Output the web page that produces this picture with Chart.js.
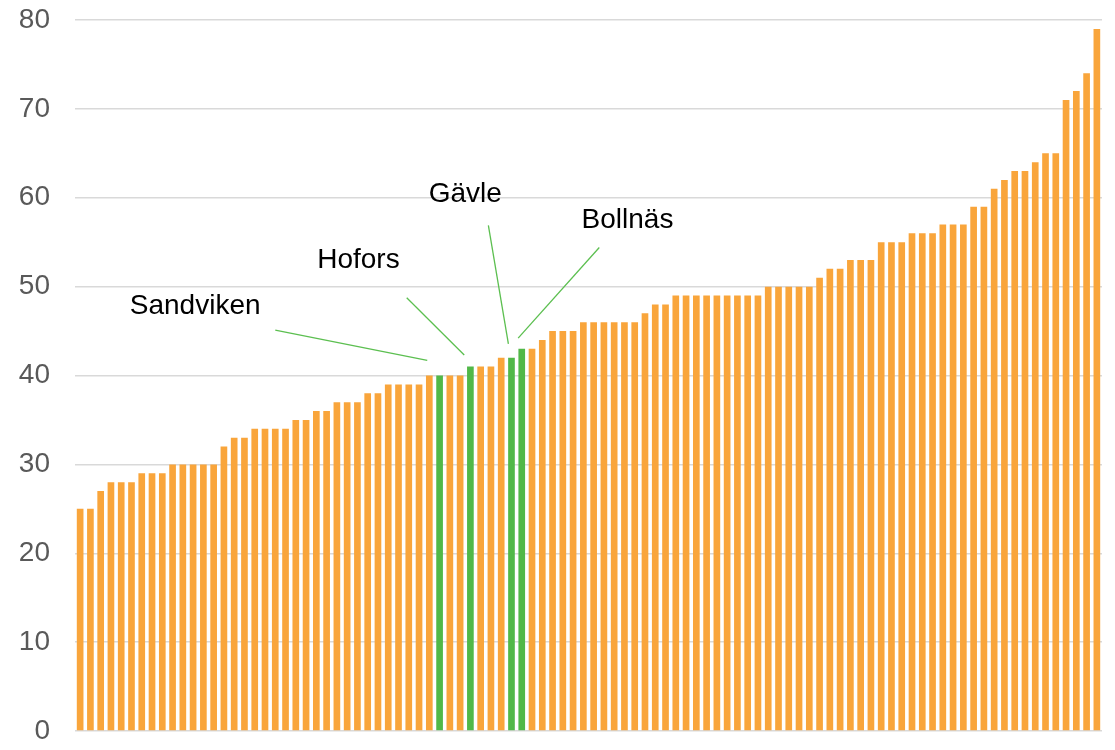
<!DOCTYPE html>
<html>
<head>
<meta charset="utf-8">
<script src="https://cdn.jsdelivr.net/npm/chart.js@4/dist/chart.umd.min.js"></script>
<style>
  html, body { margin: 0; padding: 0; background: #fff; }
  #wrap { width: 1115px; height: 750px; }
</style>
</head>
<body>
<div id="wrap"><canvas id="wykres"></canvas></div>
<script>
// values per kommun, sorted ascending
var values = [
    25, 25, 27, 28, 28, 28, 29, 29, 29, 30, 30, 30, 30, 30,
    32, 33, 33, 34, 34, 34, 34, 35, 35, 36, 36, 37, 37, 37, 38, 38, 39, 39, 39, 39,
    40, 40, 40, 40, 41, 41, 41, 42, 42, 43, 43, 44, 45, 45, 45,
    46, 46, 46, 46, 46, 46, 47, 48, 48,
    49, 49, 49, 49, 49, 49, 49, 49, 49, 50, 50, 50, 50, 50,
    51, 52, 52, 53, 53, 53, 55, 55, 55, 56, 56, 56, 57, 57, 57, 59, 59,
    61, 62, 63, 63, 64, 65, 65, 71, 72, 74, 79
];

// highlighted kommuner and their position in the list
var namedNames = ['Sandviken', 'Hofors', 'Gävle', 'Bollnäs'];
var namedIndex = [35, 38, 42, 43];

var yTicks = [0, 10, 20, 30, 40, 50, 60, 70, 80];

var categories = values.map(function (v, i) {
    var k = namedIndex.indexOf(i);
    return k >= 0 ? namedNames[k] : 'Kommun ' + (i + 1);
});

// callouts: text anchor and line ends in data units (category index, value)
var callouts = [
    { name: 'Sandviken', textX: 11.2, textY: 46.9, fromX: 19.0, fromY: 45.1, toX: 33.8, toY: 41.7 },
    { name: 'Hofors', textX: 27.1, textY: 52.1, fromX: 31.8, fromY: 48.75, toX: 37.4, toY: 42.3 },
    { name: 'Gävle', textX: 37.5, textY: 59.55, fromX: 39.75, fromY: 56.9, toX: 41.7, toY: 43.55 },
    { name: 'Bollnäs', textX: 53.3, textY: 56.55, fromX: 50.55, fromY: 54.4, toX: 42.65, toY: 44.2 }
];

var orange = '#F9A53B';
var green = '#51B848';

var barColors = values.map(function (v, i) {
    return namedIndex.indexOf(i) >= 0 ? green : orange;
});

var calloutPlugin = {
    id: 'callouts',
    afterDatasetsDraw: function (chart) {
        var ctx = chart.ctx;
        var xs = chart.scales.x;
        var ys = chart.scales.y;
        ctx.save();
        callouts.forEach(function (c) {
            ctx.strokeStyle = '#5CBF50';
            ctx.lineWidth = 1.3;
            ctx.beginPath();
            ctx.moveTo(xs.getPixelForValue(c.fromX), ys.getPixelForValue(c.fromY));
            ctx.lineTo(xs.getPixelForValue(c.toX), ys.getPixelForValue(c.toY));
            ctx.stroke();

            ctx.fillStyle = '#000000';
            ctx.font = '28px "Liberation Sans", Arial, sans-serif';
            ctx.textAlign = 'center';
            ctx.textBaseline = 'alphabetic';
            ctx.fillText(c.name, xs.getPixelForValue(c.textX), ys.getPixelForValue(c.textY));
        });
        ctx.restore();
    }
};

var ctx = document.getElementById('wykres').getContext('2d');
var myChart = new Chart(ctx, {
    type: 'bar',
    data: {
        labels: categories,
        datasets: [{
            label: 'Värde',
            data: values,
            backgroundColor: barColors,
            borderWidth: 0,
            categoryPercentage: 1.0,
            barPercentage: 0.65
        }]
    },
    options: {
        responsive: true,
        maintainAspectRatio: false,
        animation: false,
        layout: {
            padding: { top: 20, right: 13, bottom: 19, left: 0 }
        },
        plugins: {
            legend: { display: false },
            tooltip: { enabled: false }
        },
        scales: {
            x: {
                display: false
            },
            y: {
                min: 0,
                max: 80,
                afterFit: function (scale) {
                    scale.width = 75;
                    scale.paddingTop = 0;
                    scale.paddingBottom = 0;
                },
                afterBuildTicks: function (scale) {
                    scale.ticks = yTicks.map(function (v) { return { value: v }; });
                },
                border: { display: false },
                grid: {
                    color: '#D9D9D9',
                    lineWidth: 1.5,
                    drawTicks: false
                },
                ticks: {
                    padding: 25,
                    color: '#595959',
                    font: { family: '"Liberation Sans", Arial, sans-serif', size: 28 }
                }
            }
        }
    },
    plugins: [calloutPlugin]
});
</script>
</body>
</html>
